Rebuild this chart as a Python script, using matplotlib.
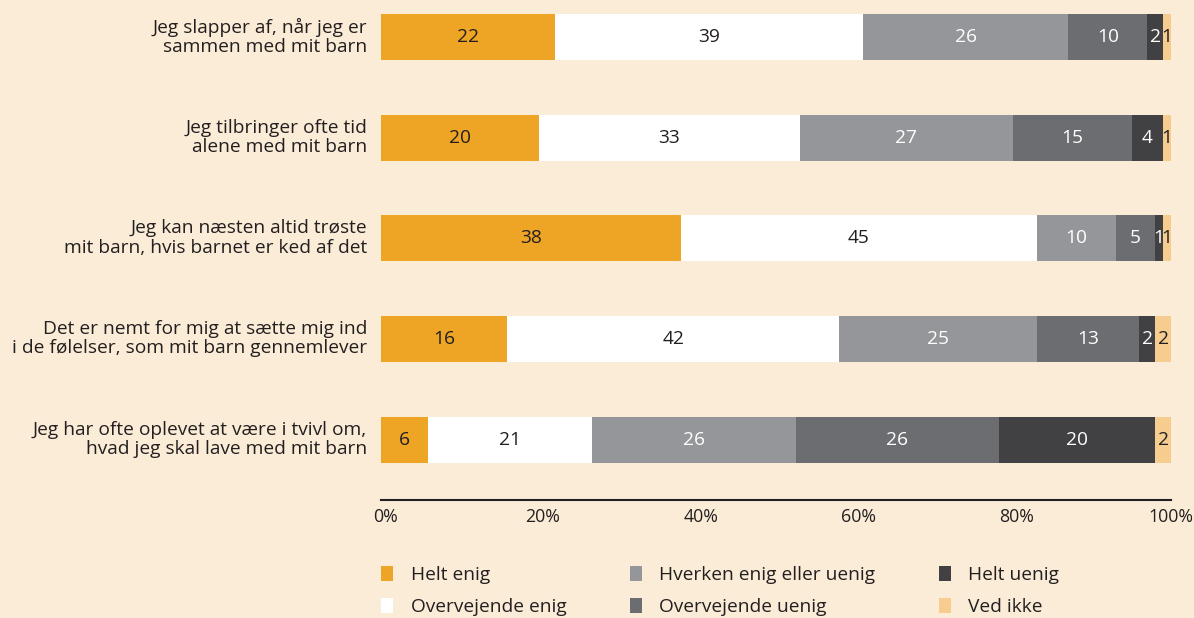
import numpy as np
import matplotlib.pyplot as plt
import matplotlib.transforms as mtransforms
from matplotlib.patches import Patch

plt.rcParams['font.family'] = ['Open Sans', 'DejaVu Sans']

statements = [
    "Jeg slapper af, når jeg er\nsammen med mit barn",
    "Jeg tilbringer ofte tid\nalene med mit barn",
    "Jeg kan næsten altid trøste\nmit barn, hvis barnet er ked af det",
    "Det er nemt for mig at sætte mig ind\ni de følelser, som mit barn gennemlever",
    "Jeg har ofte oplevet at være i tvivl om,\nhvad jeg skal lave med mit barn",
]
categories = ["Helt enig", "Overvejende enig", "Hverken enig eller uenig",
              "Overvejende uenig", "Helt uenig", "Ved ikke"]

helt_enig = [22, 20, 38, 16, 6]
overvejende_enig = [39, 33, 45, 42, 21]
hverken = [26, 27, 10, 25, 26]
overvejende_uenig = [10, 15, 5, 13, 26]
helt_uenig = [2, 4, 1, 2, 20]
ved_ikke = [1, 1, 1, 2, 2]

colors = ['#EEA424', '#FFFFFF', '#95969A', '#6C6D71', '#414042', '#F6CD8F']
text_colors = ['#231F20', '#231F20', 'white', 'white', 'white', '#231F20']
bg = '#FBECD7'

series = np.array([helt_enig, overvejende_enig, hverken,
                   overvejende_uenig, helt_uenig, ved_ikke], dtype=float)
# scale each row to 100 %
shares = series / series.sum(axis=0) * 100

fig = plt.figure(figsize=(11.94, 6.18), dpi=100, facecolor=bg)
ax = fig.add_axes([381/1194, 118/618, 790/1194, 500/618])
ax.set_facecolor(bg)

y = np.arange(len(statements))
left = np.zeros(len(statements))
for i, cat in enumerate(categories):
    bars = ax.barh(y, shares[i], left=left, height=0.457, color=colors[i],
                   label=cat, linewidth=0)
    for b, v in zip(bars, series[i]):
        ax.text(b.get_x() + b.get_width() / 2, b.get_y() + b.get_height() / 2,
                f"{int(v)}", ha='center', va='center', fontsize=13.8,
                color=text_colors[i])
    left += shares[i]

ax.set_xlim(0, 100)
ax.set_ylim(4.60, -0.37)
ax.set_yticks(y)
ax.set_yticklabels(statements, fontsize=13.8, color='#231F20', linespacing=1.1)
ax.set_xticks([0, 20, 40, 60, 80, 100])
ax.set_xticklabels(['0%', '20%', '40%', '60%', '80%', '100%'],
                   fontsize=12.8, color='#231F20')
ax.tick_params(axis='both', length=0)
ax.tick_params(axis='y', pad=10)
ax.tick_params(axis='x', pad=6)

# nudge labels a little, like the original (last one stays inside the figure)
xshift = mtransforms.ScaledTranslation(4/100, 0, fig.dpi_scale_trans)
for lbl in ax.get_xticklabels()[:-1]:
    lbl.set_transform(lbl.get_transform() + xshift)
yshift = mtransforms.ScaledTranslation(0, 3/100, fig.dpi_scale_trans)
for lbl in ax.get_yticklabels():
    lbl.set_transform(lbl.get_transform() + yshift)

for s in ['top', 'right', 'left']:
    ax.spines[s].set_visible(False)
ax.spines['bottom'].set_color('#231F20')
ax.spines['bottom'].set_linewidth(1.5)

handles = [Patch(facecolor=c, edgecolor='none') for c in colors]
fig.legend(handles, categories, ncol=3, loc='upper left',
           bbox_to_anchor=(381/1194, 1 - 566/618), frameon=False,
           borderpad=0, borderaxespad=0,
           fontsize=13.8, handlelength=0.65, handleheight=0.85,
           handletextpad=0.9, columnspacing=3.3, labelspacing=0.7,
           labelcolor='#231F20')

fig.savefig('out.png', dpi=100, facecolor=bg)
